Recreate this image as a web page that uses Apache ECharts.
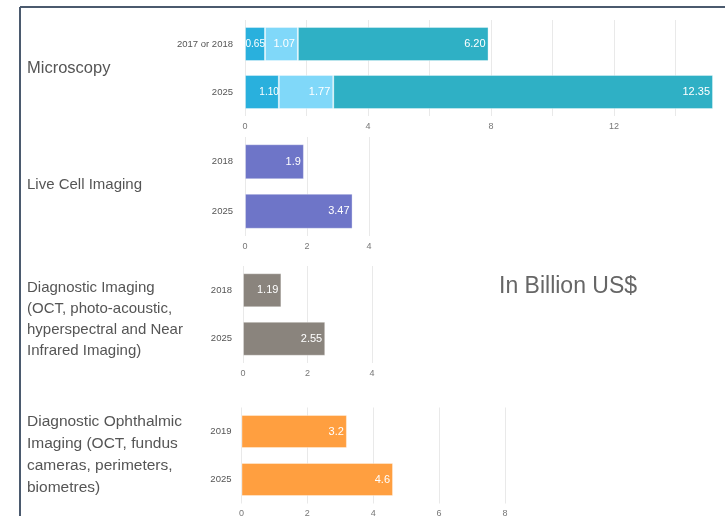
<!DOCTYPE html>
<html>
<head>
<meta charset="utf-8">
<script src="https://cdn.jsdelivr.net/npm/echarts@6/dist/echarts.min.js"></script>
<style>
html, body { margin: 0; padding: 0; background: #fff; }
#chart { width: 725px; height: 516px; }
</style>
</head>
<body>
<div id="chart"></div>
<script>
// data
var microYears = ['2017 or 2018', '2025'];
var microSeg1 = [0.65, 1.10];
var microSeg2 = [1.07, 1.77];
var microSeg3 = [6.20, 12.35];

var liveYears = ['2018', '2025'];
var liveValues = [1.9, 3.47];

var diagYears = ['2018', '2025'];
var diagValues = [1.19, 2.55];

var ophYears = ['2019', '2025'];
var ophValues = [3.2, 4.6];

var FONT = '"Liberation Sans", Arial, sans-serif';

function xAxisCfg(idx, max, fmt) {
  return {
    type: 'value', gridIndex: idx, min: 0, max: max, interval: 2,
    axisLine: { show: false }, axisTick: { show: false },
    axisLabel: { fontSize: 9, color: '#777', fontFamily: FONT, margin: 6, formatter: fmt },
    splitLine: { show: true, lineStyle: { color: '#e9e9e9', width: 1 } }
  };
}

function yAxisCfg(idx, data, margin) {
  return {
    type: 'category', gridIndex: idx, data: data, inverse: true,
    axisLine: { show: false }, axisTick: { show: false },
    axisLabel: { fontSize: 9.5, color: '#555', fontFamily: FONT, margin: margin }
  };
}

function barLabel(fixed, size, dist) {
  return {
    show: true, position: 'insideRight', distance: dist, color: '#fff',
    fontSize: size, fontFamily: FONT,
    formatter: function (p) { return fixed ? p.value.toFixed(2) : String(p.value); }
  };
}

function barSeries(name, idx, data, color, width, fixed, stack, size, dist) {
  return {
    name: name, type: 'bar', xAxisIndex: idx, yAxisIndex: idx,
    data: data, stack: stack, barWidth: width,
    itemStyle: { color: color, borderColor: 'rgba(255,255,255,0.35)', borderWidth: 1 },
    label: barLabel(fixed, size || 11, dist == null ? 3 : dist)
  };
}

var chart = echarts.init(document.getElementById('chart'), null, { renderer: 'canvas' });

var option = {
  backgroundColor: '#fff',
  animation: false,
  grid: [
    { left: 245, top: 20, width: 492, height: 96, outerBoundsMode: 'none' },
    { left: 245, top: 137, width: 124, height: 99, outerBoundsMode: 'none' },
    { left: 243, top: 266, width: 129, height: 97, outerBoundsMode: 'none' },
    { left: 241.5, top: 407.5, width: 263.5, height: 96, outerBoundsMode: 'none' }
  ],
  xAxis: [
    xAxisCfg(0, 16, function (v) { return v % 4 === 0 ? v : ''; }),
    xAxisCfg(1, 4),
    xAxisCfg(2, 4),
    xAxisCfg(3, 8)
  ],
  yAxis: [
    yAxisCfg(0, microYears, 12),
    yAxisCfg(1, liveYears, 12),
    yAxisCfg(2, diagYears, 11),
    yAxisCfg(3, ophYears, 10)
  ],
  series: [
    barSeries('seg1', 0, microSeg1, '#29b0dd', 34, true, 'micro', 10, 0),
    barSeries('seg2', 0, microSeg2, '#80d8f9', 34, true, 'micro'),
    barSeries('seg3', 0, microSeg3, '#2fb0c5', 34, true, 'micro'),
    barSeries('live', 1, liveValues, '#6e75c8', 35, false),
    barSeries('diag', 2, diagValues, '#8a847d', 34, false),
    barSeries('oph', 3, ophValues, '#ff9f40', 33, false)
  ],
  graphic: [
    // frame
    { type: 'line', shape: { x1: 20, y1: 7, x2: 725, y2: 7 }, style: { stroke: '#4b5a6e', lineWidth: 2 } },
    { type: 'line', shape: { x1: 20, y1: 7, x2: 20, y2: 516 }, style: { stroke: '#4b5a6e', lineWidth: 2 } },
    // left titles
    { type: 'text', left: 27, top: 60, style: { text: 'Microscopy', font: '16.5px ' + FONT, fill: '#555' } },
    { type: 'text', left: 27, top: 177, style: { text: 'Live Cell Imaging', font: '15px ' + FONT, fill: '#555' } },
    { type: 'text', left: 27, top: 277, style: {
      text: 'Diagnostic Imaging\n(OCT, photo-acoustic,\nhyperspectral and Near\nInfrared Imaging)',
      font: '15px ' + FONT, fill: '#555', lineHeight: 21 } },
    { type: 'text', left: 27, top: 411, style: {
      text: 'Diagnostic Ophthalmic\nImaging (OCT, fundus\ncameras, perimeters,\nbiometres)',
      font: '15.5px ' + FONT, fill: '#555', lineHeight: 22 } },
    { type: 'text', left: 499, top: 275, style: { text: 'In Billion US$', font: '23px ' + FONT, fill: '#666' } }
  ]
};

chart.setOption(option);
</script>
</body>
</html>
